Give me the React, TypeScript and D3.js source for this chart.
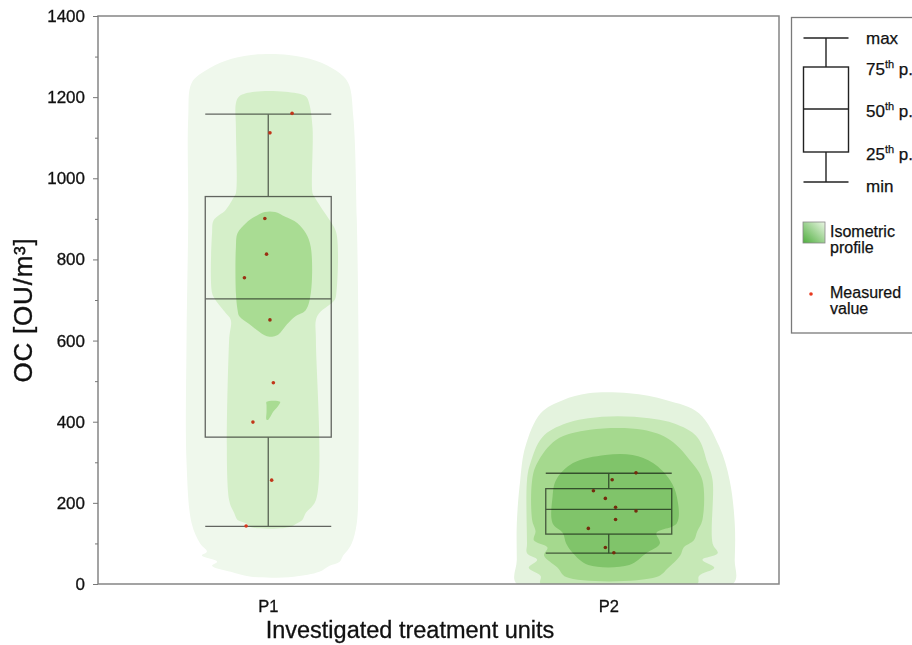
import React, { useEffect, useRef } from "react";
import * as d3 from "d3";

// categories and box statistics (OU/m³)
const categories = ["P1", "P2"];
const maxValues = [1158, 273];
const q3Values = [955, 235];
const medianValues = [703, 184];
const q1Values = [362, 123];
const minValues = [142, 76];

// measured values with their horizontal jitter (fraction of half a category step)
const measuredP1 = [1160, 1112, 901, 813, 755, 651, 496, 399, 256, 143];
const jitterP1 = [0.14, 0.01, -0.02, -0.01, -0.14, 0.01, 0.03, -0.09, 0.02, -0.13];
const measuredP2 = [274, 257, 230, 211, 189, 180, 159, 137, 90, 77];
const jitterP2 = [0.16, 0.02, -0.09, -0.02, 0.04, 0.16, 0.04, -0.12, -0.02, 0.03];

const yTicks = [0, 200, 400, 600, 800, 1000, 1200, 1400];
const yMinorTicks = [100, 300, 500, 700, 900, 1100, 1300];

// isometric profiles: [value, left density, right density]
type Row = [number, number, number];

const profileP1Outer: Row[] = [
  [1304, -0.1, 0.12], [1290, -0.25, 0.28], [1265, -0.37, 0.4], [1235, -0.45, 0.47],
  [1150, -0.47, 0.5], [900, -0.47, 0.52], [600, -0.48, 0.53], [300, -0.48, 0.53],
  [150, -0.45, 0.52], [100, -0.4, 0.49], [80, -0.36, 0.46], [70, -0.39, 0.44],
  [55, -0.3, 0.42], [45, -0.33, 0.36], [30, -0.22, 0.3], [18, -0.1, 0.15],
];
const profileP1Mid: Row[] = [
  [1213, -0.08, 0.1], [1202, -0.17, 0.22], [1185, -0.19, 0.24], [1126, -0.19, 0.26],
  [963, -0.19, 0.26], [955, -0.2, 0.27], [922, -0.25, 0.32], [897, -0.32, 0.36],
  [865, -0.33, 0.4], [717, -0.33, 0.4], [700, -0.31, 0.39], [668, -0.25, 0.3],
  [651, -0.22, 0.28], [600, -0.23, 0.28], [207, -0.23, 0.28], [175, -0.2, 0.22],
  [158, -0.18, 0.2], [150, -0.13, 0.17], [140, -0.1, 0.12],
];
const profileP1Core: Row[] = [
  [917, -0.02, 0.04], [905, -0.08, 0.1], [890, -0.13, 0.17], [865, -0.18, 0.22],
  [830, -0.19, 0.25], [717, -0.19, 0.25], [675, -0.18, 0.22], [660, -0.17, 0.16],
  [640, -0.11, 0.11], [615, -0.03, 0.06], [610, 0.0, 0.03],
];
const profileP1Patch: Row[] = [
  [449, -0.01, 0.07], [440, -0.01, 0.06], [425, -0.01, 0.03], [405, -0.01, 0.0],
];

const profileP2Outer: Row[] = [
  [470, -0.12, 0.12], [453, -0.27, 0.34], [421, -0.4, 0.53], [338, -0.49, 0.65],
  [256, -0.52, 0.71], [150, -0.54, 0.74], [60, -0.54, 0.74], [0, -0.54, 0.73],
];
const profileP2Mid: Row[] = [
  [412, -0.04, 0.15], [396, -0.25, 0.38], [362, -0.39, 0.52], [298, -0.46, 0.58],
  [256, -0.48, 0.61], [100, -0.48, 0.61], [76, -0.48, 0.64], [60, -0.42, 0.55],
  [40, -0.47, 0.62], [20, -0.4, 0.53], [0, -0.4, 0.52],
];
const profileP2Inner: Row[] = [
  [380, -0.11, 0.2], [355, -0.31, 0.36], [298, -0.42, 0.49], [256, -0.45, 0.55],
  [158, -0.45, 0.55], [130, -0.43, 0.52], [108, -0.44, 0.5], [90, -0.36, 0.44],
  [70, -0.38, 0.42], [40, -0.3, 0.35], [17, -0.25, 0.28],
];
const profileP2Core: Row[] = [
  [318, -0.02, 0.14], [298, -0.21, 0.26], [256, -0.31, 0.36], [215, -0.33, 0.4],
  [150, -0.33, 0.4], [126, -0.27, 0.28], [100, -0.25, 0.3], [76, -0.21, 0.22],
  [47, -0.12, 0.12],
];

const FONT = "'Liberation Sans', Arial, Helvetica, sans-serif";

const App = () => {
  const svgRef = useRef<SVGSVGElement>(null);

  useEffect(() => {
    const svg = d3.select(svgRef.current);
    svg.selectAll("*").remove();

    const width = 912;
    const height = 645;
    const margin = { top: 16, right: 133, bottom: 61, left: 98 };
    const plotW = width - margin.left - margin.right;
    const plotH = height - margin.top - margin.bottom;

    const x = d3.scalePoint<string>()
      .domain(categories)
      .range([margin.left, width - margin.right])
      .padding(0.5);
    const y = d3.scaleLinear().domain([0, 1400]).range([height - margin.bottom, margin.top]);
    const w = d3.scaleLinear().domain([0, 1]).range([0, x.step() / 2]);

    const defs = svg.append("defs");
    defs.append("clipPath").attr("id", "plotClip")
      .append("rect").attr("x", margin.left).attr("y", margin.top).attr("width", plotW).attr("height", plotH);

    svg.append("rect").attr("width", width).attr("height", height).attr("fill", "#fff");

    // boxes
    const boxG = svg.append("g").attr("stroke", "#686868").attr("stroke-width", 1.3).attr("fill", "none");
    categories.forEach((c, i) => {
      const cx = x(c)!;
      const hw = w(0.37);
      boxG.append("line").attr("x1", cx - hw).attr("x2", cx + hw).attr("y1", y(maxValues[i])).attr("y2", y(maxValues[i]));
      boxG.append("line").attr("x1", cx - hw).attr("x2", cx + hw).attr("y1", y(minValues[i])).attr("y2", y(minValues[i]));
      boxG.append("line").attr("x1", cx).attr("x2", cx).attr("y1", y(maxValues[i])).attr("y2", y(q3Values[i]));
      boxG.append("line").attr("x1", cx).attr("x2", cx).attr("y1", y(q1Values[i])).attr("y2", y(minValues[i]));
      boxG.append("rect")
        .attr("x", cx - hw).attr("width", hw * 2)
        .attr("y", y(q3Values[i])).attr("height", y(q1Values[i]) - y(q3Values[i]));
      boxG.append("line").attr("x1", cx - hw).attr("x2", cx + hw).attr("y1", y(medianValues[i])).attr("y2", y(medianValues[i]));
    });

    // measured values
    const dots = [
      ...measuredP1.map((v, i) => ({ c: "P1", v, j: jitterP1[i] })),
      ...measuredP2.map((v, i) => ({ c: "P2", v, j: jitterP2[i] })),
    ];
    svg.append("g").selectAll("circle").data(dots).enter().append("circle")
      .attr("cx", d => x(d.c)! + w(d.j))
      .attr("cy", d => y(d.v))
      .attr("r", 1.8)
      .attr("fill", "#e8391f");

    // isometric profiles, multiplied over boxes and dots
    const profiles = [
      { c: "P1", rows: profileP1Outer, color: "#eff8ec" },
      { c: "P1", rows: profileP1Mid, color: "#d5efc9" },
      { c: "P1", rows: profileP1Core, color: "#a9dc93" },
      { c: "P1", rows: profileP1Patch, color: "#a9dc93" },
      { c: "P2", rows: profileP2Outer, color: "#e4f3de" },
      { c: "P2", rows: profileP2Mid, color: "#c6e8b6" },
      { c: "P2", rows: profileP2Inner, color: "#a5d98e" },
      { c: "P2", rows: profileP2Core, color: "#80c46a" },
    ];
    const outline = d3.line<[number, number]>().curve(d3.curveCatmullRomClosed.alpha(0.5));
    const profG = svg.append("g").attr("clip-path", "url(#plotClip)").style("mix-blend-mode", "multiply");
    profiles.forEach(p => {
      const cx = x(p.c)!;
      const right = p.rows.map(r => [cx + w(r[2]), y(r[0])] as [number, number]);
      const left = p.rows.slice().reverse().map(r => [cx + w(r[1]), y(r[0])] as [number, number]);
      profG.append("path").attr("d", outline([...right, ...left])).attr("fill", p.color);
    });

    // frame
    svg.append("rect")
      .attr("x", margin.left).attr("y", margin.top)
      .attr("width", plotW).attr("height", plotH)
      .attr("fill", "none").attr("stroke", "#858585").attr("stroke-width", 1.5);

    // y axis
    const yAxis = svg.append("g").attr("transform", `translate(${margin.left},0)`)
      .call(d3.axisLeft(y).tickValues(yTicks).tickSize(5).tickPadding(8).tickFormat(d3.format("d")));
    yAxis.select(".domain").remove();
    yAxis.selectAll("line").attr("stroke", "#777");
    yAxis.selectAll("text").attr("font-size", 17).attr("font-family", FONT).attr("fill", "#111")
      .attr("stroke", "#111").attr("stroke-width", 0.3);
    const yMinor = svg.append("g").attr("transform", `translate(${margin.left},0)`)
      .call(d3.axisLeft(y).tickValues(yMinorTicks).tickSize(3).tickFormat(() => ""));
    yMinor.select(".domain").remove();
    yMinor.selectAll("line").attr("stroke", "#777");

    // category labels
    svg.append("g").selectAll("text").data(categories).enter().append("text")
      .attr("x", d => x(d)!).attr("y", 612)
      .attr("text-anchor", "middle")
      .attr("font-family", FONT).attr("font-size", 16.5).attr("fill", "#111")
      .attr("stroke", "#111").attr("stroke-width", 0.3)
      .text(d => d);

    // axis titles
    svg.append("text")
      .attr("x", 410).attr("y", 638)
      .attr("text-anchor", "middle")
      .attr("font-family", FONT).attr("font-size", 23.5).attr("fill", "#111")
      .attr("stroke", "#111").attr("stroke-width", 0.3)
      .text("Investigated treatment units");
    svg.append("text")
      .attr("transform", "translate(32,310) rotate(-90)")
      .attr("text-anchor", "middle")
      .attr("font-family", FONT).attr("font-size", 26).attr("fill", "#111")
      .attr("stroke", "#111").attr("stroke-width", 0.3)
      .attr("letter-spacing", 0.8)
      .text("OC [OU/m³]");

    // legend
    const lg = svg.append("g").attr("font-family", FONT).attr("font-size", 17).attr("fill", "#111")
      .attr("stroke", "#111").attr("stroke-width", 0.25);
    lg.append("rect").attr("x", 791.5).attr("y", 17.5).attr("width", 130).attr("height", 315.5)
      .attr("fill", "#fff").attr("stroke", "#7a7a7a").attr("stroke-width", 1.3);
    const lb = lg.append("g").attr("stroke", "#222").attr("stroke-width", 1.4).attr("fill", "none");
    const lcx = 826;
    const lhw = 22.5;
    lb.append("line").attr("x1", lcx - lhw).attr("x2", lcx + lhw).attr("y1", 38).attr("y2", 38);
    lb.append("line").attr("x1", lcx).attr("x2", lcx).attr("y1", 38).attr("y2", 67);
    lb.append("rect").attr("x", lcx - lhw).attr("y", 67).attr("width", lhw * 2).attr("height", 85);
    lb.append("line").attr("x1", lcx - lhw).attr("x2", lcx + lhw).attr("y1", 109).attr("y2", 109);
    lb.append("line").attr("x1", lcx).attr("x2", lcx).attr("y1", 152).attr("y2", 182);
    lb.append("line").attr("x1", lcx - lhw).attr("x2", lcx + lhw).attr("y1", 182).attr("y2", 182);

    lg.append("text").attr("x", 866).attr("y", 44).text("max");
    const pct = (label: string, yy: number) => {
      const t = lg.append("text").attr("x", 866).attr("y", yy);
      t.append("tspan").text(label);
      t.append("tspan").attr("font-size", 11).attr("dy", -7).text("th");
      t.append("tspan").attr("dy", 7).text(" p.");
    };
    pct("75", 75);
    pct("50", 117);
    pct("25", 160);
    lg.append("text").attr("x", 866).attr("y", 192).text("min");

    const grad = defs.append("linearGradient").attr("id", "isoGrad")
      .attr("x1", 0).attr("y1", 1).attr("x2", 1).attr("y2", 0);
    grad.append("stop").attr("offset", "0%").attr("stop-color", "#4fae3e");
    grad.append("stop").attr("offset", "100%").attr("stop-color", "#eaf6e4");
    lg.append("rect").attr("x", 803).attr("y", 222).attr("width", 22).attr("height", 21)
      .attr("fill", "url(#isoGrad)").attr("stroke", "#888").attr("stroke-width", 0.8);

    // two-line labels, slightly smaller so the lines sit tight without overlapping
    const twoLine = (a: string, b: string, yy: number) => {
      const t = lg.append("text").attr("x", 830).attr("y", yy).attr("font-size", 16);
      t.append("tspan").attr("x", 830).text(a);
      t.append("tspan").attr("x", 830).attr("dy", 16).text(b);
    };
    twoLine("Isometric", "profile", 237);
    lg.append("circle").attr("cx", 811).attr("cy", 294).attr("r", 1.8).attr("fill", "#e8391f").attr("stroke", "none");
    twoLine("Measured", "value", 298);
  }, []);

  return (
    <svg
      ref={svgRef}
      width={912}
      height={645}
      style={{ position: "absolute", left: 0, top: 0, display: "block" }}
    />
  );
};

export default App;
